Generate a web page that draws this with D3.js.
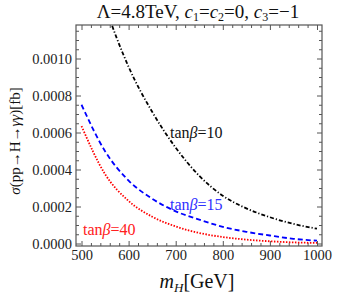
<!DOCTYPE html>
<html>
<head>
<meta charset="utf-8">
<script src="https://cdn.jsdelivr.net/npm/d3@7"></script>
<style>
  body { margin: 0; background: #fff; }
  svg text { font-family: "Liberation Serif", "Times New Roman", Times, serif; }
</style>
</head>
<body>
<script>
// masses (GeV) and cross sections (fb)
var masses = [500, 550, 600, 650, 700, 750, 800, 850, 900, 950, 1000];
var sigma10 = [0.00175, 0.00129, 0.000955, 0.000712, 0.000518, 0.000366, 0.000258, 0.000190, 0.000142, 0.000106, 0.00008];
var sigma15 = [0.00075, 0.000499, 0.00034, 0.000242, 0.000174, 0.000129, 0.0000904, 0.0000632, 0.0000432, 0.0000254, 0.000015];
var sigma40 = [0.000635, 0.000375, 0.00023, 0.000145, 0.000092, 0.000057, 0.000035, 0.000021, 0.000012, 0.000006, 0.000003];

var xTicks = [500, 600, 700, 800, 900, 1000];
var yTicks = [0, 0.0002, 0.0004, 0.0006, 0.0008, 0.001];

var width = 349, height = 294;
var frame = {left: 76, right: 322, top: 25, bottom: 246};

var x = d3.scaleLinear().domain([500, 1000]).range([81.5, 317]);
var y = d3.scaleLinear().domain([0, 0.001]).range([243.5, 58.5]);

var svg = d3.select("body").append("svg")
    .attr("width", width)
    .attr("height", height);

svg.append("clipPath").attr("id", "clip")
  .append("rect")
    .attr("x", frame.left).attr("y", frame.top)
    .attr("width", frame.right - frame.left)
    .attr("height", frame.bottom - frame.top);

// minor tick values
var xMinor = d3.range(500, 1001, 20).filter(function(d){ return d % 100 != 0; });
var yMinor = d3.range(0, 24).map(function(i){ return i * 0.00005; })
    .filter(function(d, i){ return i % 4 != 0; });

function styleAxis(g) {
  g.attr("font-family", null).attr("font-size", null);
  g.select(".domain").remove();
  g.selectAll("line").attr("stroke", "#555").attr("stroke-width", 1);
  g.selectAll("text").attr("fill", "#222").style("font-size", "14.5px");
}

// bottom
svg.append("g").attr("transform", "translate(0," + frame.bottom + ")")
  .call(d3.axisBottom(x).tickValues(xTicks).tickSizeInner(-5).tickPadding(4).tickFormat(d3.format("d")))
  .call(styleAxis);
svg.append("g").attr("transform", "translate(0," + frame.bottom + ")")
  .call(d3.axisBottom(x).tickValues(xMinor).tickSizeInner(-3).tickFormat(""))
  .call(styleAxis);
// top
svg.append("g").attr("transform", "translate(0," + frame.top + ")")
  .call(d3.axisTop(x).tickValues(xTicks).tickSizeInner(-5).tickFormat(""))
  .call(styleAxis);
svg.append("g").attr("transform", "translate(0," + frame.top + ")")
  .call(d3.axisTop(x).tickValues(xMinor).tickSizeInner(-3).tickFormat(""))
  .call(styleAxis);
// left
svg.append("g").attr("transform", "translate(" + frame.left + ",0)")
  .call(d3.axisLeft(y).tickValues(yTicks).tickSizeInner(-5).tickPadding(4).tickFormat(d3.format(".4f")))
  .call(styleAxis);
svg.append("g").attr("transform", "translate(" + frame.left + ",0)")
  .call(d3.axisLeft(y).tickValues(yMinor).tickSizeInner(-3).tickFormat(""))
  .call(styleAxis);
// right
svg.append("g").attr("transform", "translate(" + frame.right + ",0)")
  .call(d3.axisRight(y).tickValues(yTicks).tickSizeInner(-5).tickFormat(""))
  .call(styleAxis);
svg.append("g").attr("transform", "translate(" + frame.right + ",0)")
  .call(d3.axisRight(y).tickValues(yMinor).tickSizeInner(-3).tickFormat(""))
  .call(styleAxis);

svg.append("rect")
  .attr("x", frame.left).attr("y", frame.top)
  .attr("width", frame.right - frame.left)
  .attr("height", frame.bottom - frame.top)
  .attr("fill", "none").attr("stroke", "#555").attr("stroke-width", 1.2);

var line = d3.line()
  .x(function(d){ return x(d[0]); })
  .y(function(d){ return y(d[1]); })
  .curve(d3.curveMonotoneX);

var curves = [
  {vals: sigma10, color: "#000", dash: "4,2,1.2,2"},
  {vals: sigma15, color: "#0000ff", dash: "5,3"},
  {vals: sigma40, color: "#ff0000", dash: "1.5,1.5"}
];

curves.forEach(function(c){
  svg.append("path")
    .datum(d3.zip(masses, c.vals))
    .attr("clip-path", "url(#clip)")
    .attr("d", line)
    .attr("fill", "none")
    .attr("stroke", c.color)
    .attr("stroke-width", 1.8)
    .attr("stroke-dasharray", c.dash);
});

// curve labels
function tanLabel(xp, yp, val, color) {
  var t = svg.append("text").attr("x", xp).attr("y", yp)
    .attr("fill", color).style("font-size", "16px");
  t.append("tspan").text("tan");
  t.append("tspan").style("font-style", "italic").text("\u03b2");
  t.append("tspan").text("=" + val);
}
tanLabel(170, 138, "10", "#111");
tanLabel(170, 210, "15", "#3030ff");
tanLabel(83, 235, "40", "#ff2020");

// title
var title = svg.append("text").attr("x", 198).attr("y", 18)
  .attr("text-anchor", "middle").style("font-size", "19px").attr("fill", "#111");
title.append("tspan").text("\u039b=4.8TeV,  ");
title.append("tspan").style("font-style", "italic").text("c");
title.append("tspan").attr("dy", 3).style("font-size", "12px").text("1");
title.append("tspan").attr("dy", -3).text("=");
title.append("tspan").style("font-style", "italic").text("c");
title.append("tspan").attr("dy", 3).style("font-size", "12px").text("2");
title.append("tspan").attr("dy", -3).text("=0, ");
title.append("tspan").style("font-style", "italic").text("c");
title.append("tspan").attr("dy", 3).style("font-size", "12px").text("3");
title.append("tspan").attr("dy", -3).text("=\u22121");

// x label
var xl = svg.append("text").attr("x", 197).attr("y", 288)
  .attr("text-anchor", "middle").style("font-size", "20px").attr("fill", "#111");
xl.append("tspan").style("font-style", "italic").text("m");
xl.append("tspan").attr("dy", 4).style("font-size", "13px").style("font-style", "italic").text("H");
xl.append("tspan").attr("dy", -4).text("[GeV]");

// y label
var yl = svg.append("text")
  .attr("transform", "translate(20,141) rotate(-90)")
  .attr("text-anchor", "middle").style("font-size", "15px").attr("fill", "#111");
yl.append("tspan").style("font-style", "italic").text("\u03c3");
yl.append("tspan").text("(pp\u2192H\u2192");
yl.append("tspan").style("font-style", "italic").text("\u03b3\u03b3");
yl.append("tspan").text(")[fb]");
</script>
</body>
</html>
